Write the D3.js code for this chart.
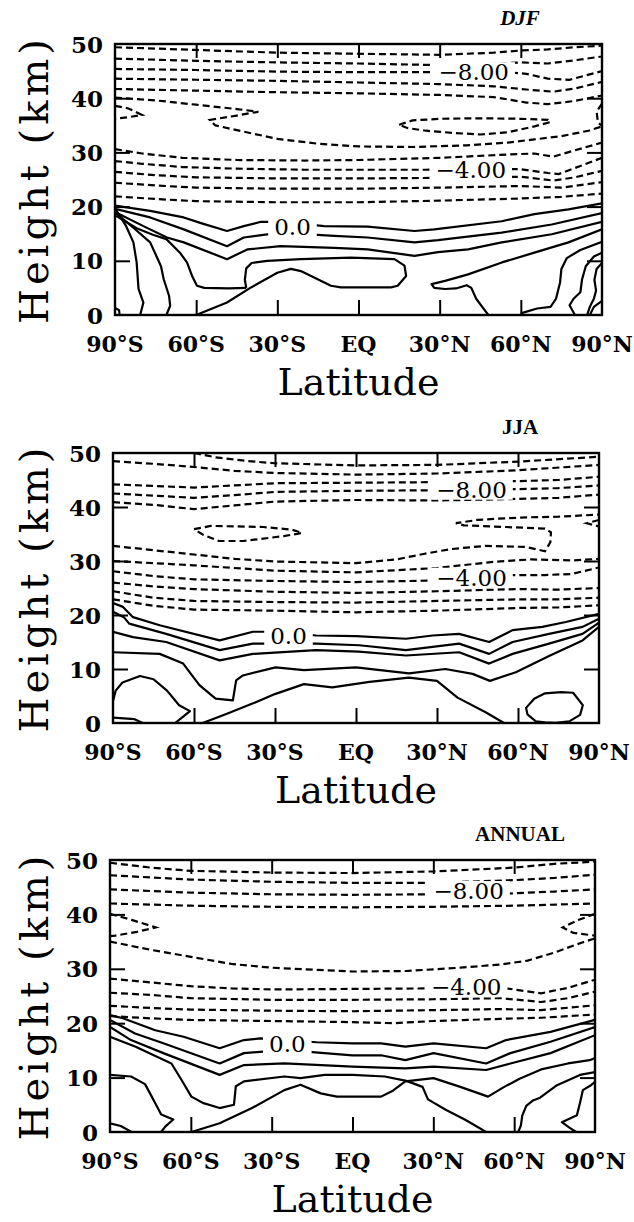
<!DOCTYPE html>
<html><head><meta charset="utf-8">
<script src="https://cdn.jsdelivr.net/npm/d3@7"></script>
<style>body{margin:0;background:#fff}svg{display:block}</style>
</head><body>
<svg id="c" width="634" height="1222"></svg>
<script>
// ---------- axis data ----------
const latTicks = [-90, -60, -30, 0, 30, 60, 90];
const latTickLabels = ["90°S", "60°S", "30°S", "EQ", "30°N", "60°N", "90°N"];
const heightTicks = [0, 10, 20, 30, 40, 50];
const innerLatTicks = [-60, -30, 0, 30, 60];
const innerHeightTicks = [10, 20, 30, 40];
const panelTitles = ["DJF", "JJA", "ANNUAL"];

// ---------- DJF contours [lat, km] ----------
const djfDashed = [
  [[-90,49.4],[-60,48.9],[-30,48.4],[0,48.2],[30,48.0],[50,48.4],[60,48.8],[70,49.0],[80,49.4],[90,49.7]],
  [[-90,47.3],[-60,46.9],[-30,46.6],[0,46.4],[30,46.1],[45,46.2],[60,46.6],[70,46.4],[80,47.0],[90,47.7]],
  [[-90,45.4],[-60,45.2],[-30,44.9],[0,44.8],[30,44.8],[55,44.8],[62,44.5],[70,43.6],[78,43.4],[90,45.0]],
  [[-90,43.6],[-60,43.4],[-30,43.2],[0,42.9],[30,42.6],[50,42.2],[62,41.6],[72,41.2],[80,41.8],[90,43.0]],
  [[-90,41.7],[-60,41.4],[-30,41.1],[0,40.9],[30,40.6],[50,40.2],[62,39.2],[70,38.9],[80,39.5],[90,40.5]],
  [[-90,40.1],[-75,39.6],[-60,38.8],[-45,38.0],[-37,37.5],[-45,36.8],[-55,36.0],[-53,35.0],[-45,34.1],[-30,32.5],[-15,31.6],[0,31.1],[20,31.0],[40,31.3],[55,31.8],[65,32.4],[75,33.0],[85,34.0],[90,34.8]],
  [[-90,38.6],[-85,38.1],[-80,36.9],[-85,36.5],[-90,36.2]],
  [[90,39.0],[88,37.5],[88.5,35.5],[90,34.9]],
  [[15,35.1],[20,35.9],[30,36.2],[45,36.3],[60,36.2],[70,36.0],[71,35.6],[65,34.8],[55,33.7],[45,33.3],[35,33.6],[25,34.0],[18,34.5],[15,35.1]],
  [[-90,30.6],[-80,29.8],[-65,29.0],[-45,28.6],[-20,28.5],[0,28.6],[30,29.0],[55,29.6],[65,29.8],[72,29.2],[80,30.4],[90,31.8]],
  [[-90,28.4],[-80,27.9],[-65,27.3],[-45,27.0],[-20,26.8],[0,26.8],[25,26.8],[45,26.9],[60,26.9],[70,26.2],[74,26.0],[82,27.5],[90,29.0]],
  [[-90,26.4],[-75,25.8],[-60,25.4],[-30,25.2],[0,25.2],[30,25.3],[60,25.5],[72,24.8],[80,25.4],[90,26.6]],
  [[-90,24.4],[-75,23.9],[-60,23.5],[-30,23.3],[0,23.3],[30,23.5],[60,23.8],[75,23.5],[90,24.5]],
  [[-90,21.9],[-75,21.4],[-60,21.0],[-30,20.8],[0,20.8],[30,21.1],[60,21.5],[75,21.8],[90,22.4]]
];
const djfSolid = [
  [[-90,20.2],[-77,19.2],[-64.6,18.0],[-58.5,17.0],[-48.6,15.5],[-42.4,16.4],[-36,17.2],[-28,17.2],[-12.7,16.4],[3.4,16.3],[20.7,15.5],[28,15.8],[52.9,17.3],[65,18.6],[77.6,19.5],[90,20.6]],
  [[-90,19.6],[-77,18.0],[-64.6,15.8],[-48.6,12.7],[-42.4,14.3],[-28.8,15.2],[-9,14.6],[3.4,14.3],[20.7,13.4],[29.4,13.8],[52.9,15.2],[71.4,16.7],[90,18.8]],
  [[-90,19.0],[-79.5,16.4],[-70.8,14.3],[-64.6,13.4],[-48.6,10.3],[-41.1,12.1],[-28.8,12.7],[-9,12.4],[3.4,12.1],[20.7,10.9],[29.4,11.6],[40.5,12.1],[52.9,13.4],[71.4,14.9],[90,17.2]],
  [[90,15.8],[77.6,13.4],[65,11.5],[53,9.7],[40.5,7.5],[32,6.3],[27,5.7],[28,5.0],[32,4.8],[36,4.9],[40,5.5],[41.7,5.0],[43.5,3.0],[46.5,1.0],[48,0]],
  [[-89.6,19.4],[-86,16.5],[-83.2,13.4],[-82,9.7],[-81.3,4.8],[-79.5,2.3],[-80.7,0]],
  [[-89.6,18.8],[-83,16.0],[-77,13.4],[-73,9.0],[-72,6.6],[-70,3.5],[-69.6,1.7],[-71,0]],
  [[-89.6,18.3],[-82,16.0],[-76,14.8],[-71,14.0],[-66,11.5],[-63.4,9.7],[-61.5,7.2],[-59.7,5.4],[-57,5.0],[-48,4.9],[-41.5,5.0]],
  [[-60,0],[-48.6,2.3],[-40,5.0],[-30,7.8],[-25,8.5],[-21.3,8.1],[-16.4,6.9],[-10.2,5.4],[-6.5,5.1],[12,5.1],[14.5,5.4],[17.6,7.2],[17,9.1],[13.3,10.3],[-2.8,10.6],[-21.3,10.3],[-33.7,10.0],[-39.5,9.6],[-41.5,8.6],[-42,6.5],[-41.5,5.0]],
  [[-90,1.3],[-88.5,0.9],[-88.3,0]],
  [[60,0.3],[66,1.2],[71,1.5],[73,3.0],[74.5,6.0],[75,8.5],[77,10.5],[82,12.0],[90,13.5]],
  [[80,0],[78,1.8],[79.5,3.0],[82,4.2],[82.6,6.5],[84,9.0],[87,10.8],[90,11.5]],
  [[84.5,0],[85.5,1.5],[87,3.0],[87.8,4.5],[87.2,6.5],[88,8.5],[90,9.6]],
  [[85.5,0],[87,1.5],[90,2.6]]
];
const djfLabels = [["−8.00",42.6,44.8],["−4.00",41.5,26.7],["0.0",-24.4,16.2]];

// ---------- JJA contours ----------
const jjaDashed = [
  [[-60,50],[-52,49.2],[-40,48.5],[-30,48.1],[0,47.7],[30,47.8],[60,48.4],[90,49.3]],
  [[-90,48.5],[-75,48.0],[-62,47.5],[-45,46.7],[-30,46.3],[0,46.0],[30,46.2],[60,46.8],[90,47.8]],
  [[-90,44.2],[-75,43.9],[-60,43.6],[-45,44.0],[-30,44.4],[0,44.5],[30,44.6],[60,44.8],[75,45.0],[90,45.6]],
  [[-90,42.5],[-75,42.1],[-60,41.7],[-45,42.2],[-30,42.8],[0,43.0],[30,43.1],[60,43.3],[75,43.5],[90,44.0]],
  [[-90,40.9],[-75,40.4],[-60,39.6],[-45,40.3],[-30,41.0],[0,41.3],[30,41.2],[60,41.5],[75,41.7],[90,42.3]],
  [[-60,35.9],[-53.8,36.5],[-34.3,36.3],[-23.8,35.8],[-20,35.2],[-26.8,34.6],[-41.8,33.7],[-50.8,33.7],[-56.8,34.9],[-60,35.9]],
  [[-90,32.8],[-75,32.0],[-60,31.2],[-45,30.4],[-30,29.9],[0,29.6],[15,30.3],[25,31.3],[35,32.2],[48,32.8],[63,32.6],[70,31.8],[72,33.5],[72.2,35.3],[70,36.0],[55,36.3],[40,36.6],[37,37.0],[45,37.6],[55,37.9],[65,38.1],[75,38.2],[90,38.6]],
  [[90,37.6],[85.5,37.0],[90,36.4]],
  [[-90,30.0],[-75,29.6],[-60,29.2],[-30,28.2],[0,27.9],[30,28.7],[50,29.8],[65,30.3],[80,30.1],[90,30.4]],
  [[-90,28.1],[-75,27.2],[-60,26.6],[-30,26.3],[0,26.1],[30,26.4],[55,27.4],[70,27.4],[80,27.6],[90,28.8]],
  [[-90,26.0],[-75,25.3],[-60,24.8],[-30,24.3],[0,24.1],[30,24.4],[60,24.8],[75,24.7],[90,25.0]],
  [[-90,24.4],[-75,23.2],[-60,22.6],[-30,22.4],[0,22.3],[30,22.6],[60,22.9],[75,22.9],[90,23.2]],
  [[-90,22.9],[-75,21.7],[-60,21.0],[-30,20.8],[0,20.5],[30,20.8],[60,21.3],[75,21.4],[90,21.8]]
];
const jjaSolid = [
  [[-90,22.2],[-86.3,21.5],[-82.6,19.6],[-72.7,18.1],[-50.5,15.3],[-38.2,16.9],[-28,16.9],[-14.8,16.2],[0,16.1],[18.5,15.6],[28.4,16.2],[38.2,16.5],[49.3,15.0],[58,17.2],[69,17.8],[77.7,18.7],[90,20.2]],
  [[-90,20.6],[-86,19.6],[-84,18.4],[-70.3,16.5],[-50.5,13.5],[-38.2,14.7],[-14.8,14.7],[1.2,14.4],[18.5,13.5],[38.2,14.7],[49.3,12.8],[58,15.0],[71.5,16.5],[83.9,17.8],[90,19.3]],
  [[-90,16.9],[-82.6,15.9],[-70.3,15.0],[-50.5,11.6],[-38.2,12.8],[-14.8,13.5],[1,13.2],[18.5,12.5],[38.2,13.1],[49.3,11.0],[58,12.8],[71.5,14.7],[83.9,16.5],[90,18.6]],
  [[-90,13.1],[-72.7,12.8],[-64,11.0],[-58,7.0],[-52,4.5],[-45.6,4.2],[-44.4,7.9],[-41.9,8.8],[-29.8,10.3],[-19.3,9.8],[0,10.3],[19.6,9.2],[33.1,10.0],[43.2,9.1],[49.6,7.8],[59.2,9.4],[71.5,12.4],[83.9,15.3],[90,17.8]],
  [[-56.8,0],[-47.8,1.7],[-38.8,3.5],[-29.8,5.4],[-19.3,7.2],[-8.8,6.6],[5,7.6],[19.6,8.4],[30,7.8],[37.6,4.7],[48,2.0],[54.8,0]],
  [[-90,4.1],[-89,6.0],[-86.5,7.5],[-80,8.7],[-75,8.1],[-70,6.0],[-65.5,3.3],[-61.5,2.2],[-64,1.2],[-67,0]],
  [[-90,1.0],[-82,0.7],[-79,0]],
  [[66.6,0.3],[63.5,1.6],[63,2.8],[66,4.5],[70,5.5],[76,5.7],[80.4,5.6],[84,3.3],[83,1.5],[79,0.3],[74,0.05],[70,0.1],[66.6,0.3]]
];
const jjaLabels = [["−8.00",42.8,43.2],["−4.00",42.8,26.9],["0.0",-25,16.1]];

// ---------- ANNUAL contours ----------
const annDashed = [
  [[-90,49.5],[-75,48.6],[-60,48.0],[-30,47.7],[0,47.6],[30,47.9],[60,48.6],[75,49.3],[90,49.7]],
  [[-90,47.2],[-75,46.8],[-60,46.4],[-30,46.0],[0,45.8],[30,45.8],[60,46.3],[75,46.7],[90,47.3]],
  [[-90,44.6],[-60,44.0],[-30,43.7],[0,43.6],[30,43.7],[56,43.8],[75,44.2],[90,44.6]],
  [[-90,42.0],[-60,41.6],[-30,41.4],[0,41.3],[30,41.4],[60,41.6],[90,42.0]],
  [[-90,40.1],[-82,39.0],[-73,37.6],[-80,36.8],[-88,36.1],[-90,36.0]],
  [[90,40.1],[84,39.0],[78,37.6],[82,36.6],[90,36.1]],
  [[-90,35.0],[-75,33.5],[-60,32.2],[-45,30.9],[-30,30.2],[0,29.5],[20,29.6],[40,30.2],[55,30.8],[65,31.5],[75,33.0],[85,34.8],[90,35.6]],
  [[-90,28.2],[-75,27.5],[-60,26.8],[-45,26.4],[-30,26.2],[0,26.3],[30,26.4],[57,26.4],[70,25.5],[80,26.5],[90,28.0]],
  [[-90,25.6],[-75,25.2],[-60,24.6],[-30,24.3],[0,24.3],[30,24.4],[55,24.6],[70,23.9],[80,24.6],[90,25.8]],
  [[-90,23.2],[-75,22.8],[-60,22.5],[-30,22.3],[0,22.2],[30,22.4],[55,22.6],[70,22.4],[90,23.3]],
  [[-90,21.3],[-75,20.9],[-60,20.6],[-30,20.4],[0,20.2],[15,20.0],[30,20.4],[55,20.8],[70,21.0],[90,21.6]]
];
const annSolid = [
  [[-90,21.5],[-85.2,20.9],[-73.2,18.7],[-62.7,17.5],[-49.3,15.4],[-40.3,16.9],[-34.3,17.2],[-13.3,16.5],[0,16.3],[10.6,16.3],[19.6,15.7],[30.1,16.3],[49.6,15.4],[57,16.9],[73.5,18.4],[90,20.6]],
  [[-90,20.6],[-80.7,18.1],[-70.2,16.3],[-49.3,12.6],[-40.3,14.5],[-25.3,15.1],[0,14.1],[10.6,14.1],[19.6,13.2],[30.1,14.5],[49.6,12.6],[58.6,14.5],[73.5,16.6],[90,19.3]],
  [[-90,19.3],[-82.2,16.9],[-70.2,14.5],[-49.3,10.5],[-40.3,12.3],[-25.3,12.6],[0,12.0],[19.6,11.7],[30.1,12.0],[49.6,11.4],[58.6,12.6],[73.5,14.5],[90,17.8]],
  [[-90,17.5],[-80.7,15.7],[-67.2,12.6],[-63.5,9.6],[-59.8,6.5],[-55.3,5.3],[-49.3,4.4],[-44,5.0],[-43.3,8.4],[-40.3,9.3],[-25.3,10.2],[-19.3,9.9],[-10.3,10.5],[0,10.5],[12,10.2],[20,9.4],[26,8.3],[28,6.0],[34.6,4.1],[42,2.2],[49.6,0]],
  [[-59.8,0],[-49.3,1.6],[-37.3,4.4],[-25.3,7.7],[-19.3,8.7],[-11.8,7.1],[-5.8,6.5],[10.6,6.5],[15,7.6],[19.6,9.3],[30.1,9.9],[40,8.3],[50.3,6.5],[56,8.2],[62,9.8],[70,11.5],[80,12.6],[88,13.2],[90,13.6]],
  [[-90,10.5],[-82.2,10.2],[-77,8.8],[-74.5,6.5],[-73.2,5.3],[-71,3.2],[-66.5,2.3],[-69.5,1.0],[-71,0]],
  [[-90,1.6],[-86,1.1],[-82,0]],
  [[61.5,0],[62.5,1.2],[63,3.0],[64.5,4.8],[67,5.8],[69.6,6.3],[75.9,8.6],[84.4,10.5],[90,11.0]],
  [[90,9.2],[88.5,8.6],[85.5,7.7],[84.4,5.3],[83.3,3.1],[77.7,1.8],[80.5,0.8],[83,0]]
];
const annLabels = [["−8.00",43.1,44.3],["−4.00",42.2,26.6],["0.0",-24.2,16.2]];

// ---------- layout ----------
const panels = [
  {title: panelTitles[0], dashed: djfDashed, solid: djfSolid, labels: djfLabels, x0:115, x1:602, y0:44, y1:315, italic:true},
  {title: panelTitles[1], dashed: jjaDashed, solid: jjaSolid, labels: jjaLabels, x0:113, x1:599, y0:453, y1:723, italic:false},
  {title: panelTitles[2], dashed: annDashed, solid: annSolid, labels: annLabels, x0:110, x1:595, y0:860, y1:1132, italic:false}
];

const svg = d3.select("#c");
const serif = "'DejaVu Serif', serif";

panels.forEach((p, i) => {
  const x = d3.scaleLinear().domain([-90, 90]).range([p.x0, p.x1]);
  const y = d3.scaleLinear().domain([0, 50]).range([p.y1, p.y0]);
  const g = svg.append("g");
  const clipId = "clip" + i;
  g.append("clipPath").attr("id", clipId).append("rect")
    .attr("x", p.x0).attr("y", p.y0).attr("width", p.x1 - p.x0).attr("height", p.y1 - p.y0);
  const line = d3.line().x(d => x(d[0])).y(d => y(d[1]));
  const cg = g.append("g").attr("clip-path", `url(#${clipId})`);
  cg.selectAll("path.d").data(p.dashed).join("path")
    .attr("d", line).attr("fill", "none").attr("stroke", "#000")
    .attr("stroke-width", 2.2).attr("stroke-dasharray", "7,4");
  cg.selectAll("path.s").data(p.solid).join("path")
    .attr("d", line).attr("fill", "none").attr("stroke", "#000")
    .attr("stroke-width", 2.2).attr("stroke-linejoin", "round");
  // contour labels (white box breaks the line)
  p.labels.forEach(l => {
    const t = cg.append("text").attr("x", x(l[1])).attr("y", y(l[2]))
      .attr("text-anchor", "middle").attr("dominant-baseline", "central")
      .attr("font-family", serif).attr("font-size", 23).text(l[0]);
    const bb = t.node().getBBox();
    cg.insert("rect", () => t.node()).attr("x", bb.x - 6).attr("y", bb.y + 3)
      .attr("width", bb.width + 12).attr("height", bb.height - 6).attr("fill", "#fff");
  });
  // axes with inward ticks
  const ax = g.append("g");
  ax.append("g").attr("transform", `translate(0,${p.y1})`)
    .call(d3.axisBottom(x).tickValues(innerLatTicks).tickSize(-15).tickFormat(""))
    .call(s => s.select(".domain").remove());
  ax.append("g").attr("transform", `translate(0,${p.y0})`)
    .call(d3.axisTop(x).tickValues(innerLatTicks).tickSize(-14).tickFormat(""))
    .call(s => s.select(".domain").remove());
  ax.append("g").attr("transform", `translate(${p.x0},0)`)
    .call(d3.axisLeft(y).tickValues(innerHeightTicks).tickSize(-15).tickFormat(""))
    .call(s => s.select(".domain").remove());
  ax.append("g").attr("transform", `translate(${p.x1},0)`)
    .call(d3.axisRight(y).tickValues(innerHeightTicks).tickSize(-15).tickFormat(""))
    .call(s => s.select(".domain").remove());
  ax.selectAll("line").attr("stroke", "#000").attr("stroke-width", 2);
  g.append("rect").attr("x", p.x0).attr("y", p.y0).attr("width", p.x1 - p.x0).attr("height", p.y1 - p.y0)
    .attr("fill", "none").attr("stroke", "#000").attr("stroke-width", 2.4);
  // tick labels
  g.selectAll("text.xl").data(latTicks).join("text")
    .attr("x", d => x(d)).attr("y", p.y1 + 37).attr("text-anchor", "middle")
    .attr("font-family", serif).attr("font-size", 22).attr("font-weight", "bold")
    .text((d, k) => latTickLabels[k]);
  g.selectAll("text.yl").data(heightTicks).join("text")
    .attr("x", p.x0 - 12).attr("y", d => y(d)).attr("text-anchor", "end").attr("dominant-baseline", "central")
    .attr("font-family", serif).attr("font-size", 23).attr("font-weight", "bold")
    .text(d => d);
  g.append("text").attr("x", (p.x0 + p.x1) / 2).attr("y", p.y1 + 80).attr("text-anchor", "middle")
    .attr("font-family", serif).attr("font-size", 38).text("Latitude");
  g.append("text").attr("transform", `translate(${48},${(p.y0 + p.y1) / 2}) rotate(-90)`)
    .attr("text-anchor", "middle").attr("font-family", serif).attr("font-size", 40).attr("letter-spacing", 4)
    .text("Height (km)");
  g.append("text").attr("x", 520).attr("y", p.y0 - 19).attr("text-anchor", "middle")
    .attr("font-family", "'Liberation Serif', serif").attr("font-weight", "bold")
    .attr("font-style", p.italic ? "italic" : "normal").attr("font-size", 21).text(p.title);
});
</script>
</body></html>
